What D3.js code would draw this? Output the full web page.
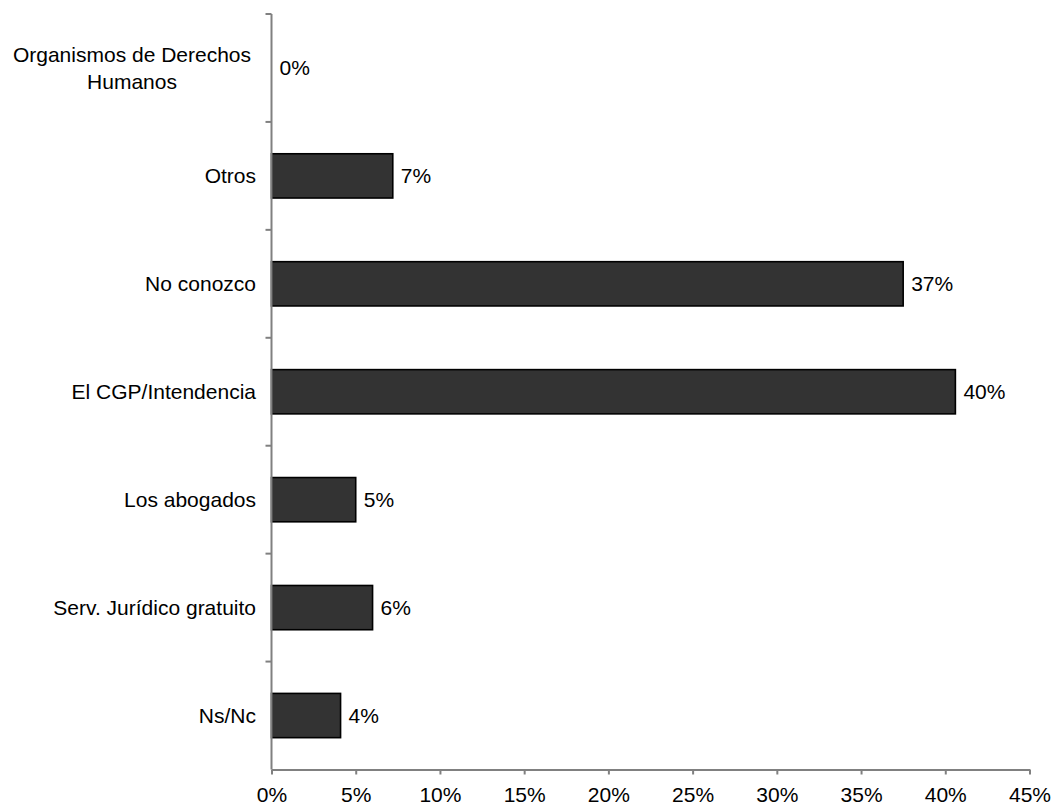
<!DOCTYPE html>
<html>
<head>
<meta charset="utf-8">
<script src="https://cdn.jsdelivr.net/npm/d3@7"></script>
<style>
  html, body { margin: 0; padding: 0; background: #fff; }
  svg { display: block; font-family: "Liberation Sans", Arial, sans-serif; }
</style>
</head>
<body>
<svg id="chart" width="1052" height="811"></svg>
<script>
const categories = [
  "Organismos de Derechos\nHumanos",
  "Otros",
  "No conozco",
  "El CGP/Intendencia",
  "Los abogados",
  "Serv. Jurídico gratuito",
  "Ns/Nc"
];
const values = [0, 7.2, 37.5, 40.6, 5.0, 6.0, 4.1];
const valueLabels = ["0%", "7%", "37%", "40%", "5%", "6%", "4%"];
const xTicks = [0, 5, 10, 15, 20, 25, 30, 35, 40, 45];

(function () {
const svg = d3.select("#chart");
const pLeft = 271.5, pRight = 1029.5, pTop = 14, pBottom = 769.5;
const fs = 21;

const x = d3.scaleLinear().domain([0, 45]).range([pLeft, pRight]);
const y = d3.scaleBand().domain(categories).range([pTop, pBottom]).paddingInner(0.59).paddingOuter(0.295);

// bars
svg.append("g").selectAll("rect")
  .data(values)
  .join("rect")
  .attr("x", x(0))
  .attr("y", (d, i) => y(categories[i]))
  .attr("width", d => x(d) - x(0))
  .attr("height", y.bandwidth())
  .attr("fill", "#333333")
  .attr("stroke", d => d > 0 ? "#000" : "none")
  .attr("stroke-width", 1.6);

// value labels
svg.append("g").selectAll("text")
  .data(values)
  .join("text")
  .attr("x", d => x(d) + 8)
  .attr("y", (d, i) => y(categories[i]) + y.bandwidth() / 2)
  .attr("dy", "0.35em")
  .attr("font-size", fs)
  .attr("fill", "#000")
  .text((d, i) => valueLabels[i]);

// y axis line & ticks (band boundaries)
const axisColor = "#808080";
svg.append("line")
  .attr("x1", pLeft).attr("x2", pLeft)
  .attr("y1", pTop).attr("y2", pBottom)
  .attr("stroke", axisColor).attr("stroke-width", 2);

const step = (pBottom - pTop) / categories.length;
const bounds = d3.range(categories.length).map(i => pTop + i * step);
svg.append("g").selectAll("line")
  .data(bounds)
  .join("line")
  .attr("x1", pLeft - 6).attr("x2", pLeft)
  .attr("y1", d => d).attr("y2", d => d)
  .attr("stroke", axisColor).attr("stroke-width", 2);

// category labels
const catG = svg.append("g");
categories.forEach(c => {
  const lines = c.split("\n");
  const cy = y(c) + y.bandwidth() / 2;
  const lh = 27;
  if (lines.length === 1) {
    catG.append("text")
      .attr("x", 256).attr("y", cy).attr("dy", "0.35em")
      .attr("text-anchor", "end").attr("font-size", fs).attr("fill", "#000")
      .text(c);
  } else {
    const t = catG.append("text").attr("font-size", fs).attr("fill", "#000");
    lines.forEach((ln, k) => {
      t.append("tspan")
        .attr("x", 132)
        .attr("y", cy + (k - (lines.length - 1) / 2) * lh)
        .attr("dy", "0.35em")
        .attr("text-anchor", "middle")
        .text(ln);
    });
  }
});

// x axis
const xAxis = d3.axisBottom(x).tickValues(xTicks).tickFormat(d => d + "%").tickSize(5).tickSizeOuter(0);
const gx = svg.append("g").attr("transform", `translate(0,${pBottom})`).call(xAxis);
gx.select(".domain").attr("stroke", axisColor).attr("stroke-width", 2);
gx.selectAll(".tick line").attr("stroke", axisColor).attr("stroke-width", 2);
gx.selectAll(".tick text").attr("font-size", fs).attr("fill", "#000")
  .attr("font-family", "'Liberation Sans', Arial, sans-serif").attr("dy", "1.15em");
})();
</script>
</body>
</html>
